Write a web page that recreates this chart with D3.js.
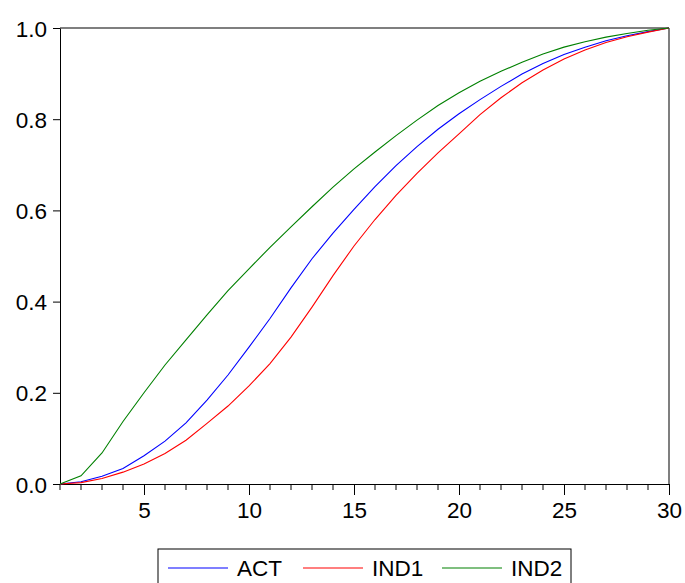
<!DOCTYPE html>
<html>
<head>
<meta charset="utf-8">
<script src="https://cdn.jsdelivr.net/npm/d3@7"></script>
<style>
  body { margin: 0; background: #fff; }
  svg { font-family: "Liberation Sans", Arial, sans-serif; }
</style>
</head>
<body>
<div id="chart"></div>
<script>
// periods 1..30
let periods = d3.range(1, 31);

let act = [0, 0.005, 0.017, 0.034, 0.062, 0.094, 0.134, 0.184, 0.239, 0.300,
  0.363, 0.430, 0.494, 0.550, 0.602, 0.652, 0.698, 0.740, 0.778, 0.812,
  0.843, 0.872, 0.899, 0.922, 0.942, 0.958, 0.972, 0.983, 0.992, 1.0];

let ind1 = [0, 0.003, 0.012, 0.026, 0.044, 0.067, 0.096, 0.133, 0.171, 0.215,
  0.264, 0.322, 0.388, 0.457, 0.522, 0.580, 0.633, 0.681, 0.726, 0.768,
  0.810, 0.847, 0.880, 0.908, 0.932, 0.952, 0.968, 0.981, 0.991, 1.0];

let ind2 = [0, 0.018, 0.068, 0.137, 0.200, 0.261, 0.316, 0.371, 0.424, 0.472,
  0.519, 0.564, 0.608, 0.651, 0.691, 0.728, 0.764, 0.798, 0.830, 0.858,
  0.883, 0.905, 0.925, 0.943, 0.958, 0.970, 0.980, 0.988, 0.995, 1.0];

let seriesNames = ["ACT", "IND1", "IND2"];
let seriesColors = ["#0000ff", "#ff0000", "#008000"];
let xTicks = [5, 10, 15, 20, 25, 30];
let yTicks = [0, 0.2, 0.4, 0.6, 0.8, 1.0];

function init(){
  let margin = {top: 28, right: 16, bottom: 99, left: 60},
      width = 685 - margin.left - margin.right,
      height = 583 - margin.top - margin.bottom;

  let svg = d3.select("#chart")
    .append("svg")
      .attr("width", 685)
      .attr("height", 583)
    .append("g")
      .attr("transform", "translate(" + margin.left + "," + margin.top + ")");

  let x = d3.scaleLinear().domain([1, 30]).range([0, width]);
  let y = d3.scaleLinear().domain([0, 1]).range([height, 0]);

  // frame top/right
  svg.append("line")
    .attr("x1", 0).attr("x2", width).attr("y1", 0).attr("y2", 0)
    .attr("stroke", "#555").attr("stroke-width", 1.5);
  svg.append("line")
    .attr("x1", width).attr("x2", width).attr("y1", 0).attr("y2", height)
    .attr("stroke", "#555").attr("stroke-width", 1.5);

  // minor x ticks at each period
  svg.append("g")
    .selectAll("line")
    .data(periods.filter(d => xTicks.indexOf(d) < 0))
    .enter()
    .append("line")
      .attr("x1", d => x(d)).attr("x2", d => x(d))
      .attr("y1", height).attr("y2", height + 6)
      .attr("stroke", "#000");

  // X axis
  let xAxis = svg.append("g")
    .attr("transform", "translate(0," + height + ")")
    .call(d3.axisBottom(x).tickValues(xTicks).tickSize(11).tickSizeOuter(0));
  xAxis.select(".domain").attr("stroke", "#000");
  xAxis.selectAll("text")
    .attr("font-size", 22.5).attr("fill", "#000").attr("dy", "0.9em")
    .attr("font-family", "Liberation Sans, Arial, sans-serif");

  // Y axis
  let yAxis = svg.append("g")
    .call(d3.axisLeft(y).tickValues(yTicks).tickFormat(d3.format(".1f")).tickSize(7).tickSizeOuter(0));
  yAxis.selectAll("text")
    .attr("font-size", 22.5).attr("fill", "#000").attr("x", -13).attr("dy", "0.36em")
    .attr("font-family", "Liberation Sans, Arial, sans-serif");

  let line = d3.line()
    .x((d, i) => x(periods[i]))
    .y(d => y(d));

  let allSeries = [act, ind1, ind2];
  svg.append("g")
    .selectAll("path")
    .data(allSeries)
    .enter()
    .append("path")
      .attr("d", d => line(d))
      .attr("fill", "none")
      .attr("stroke", (d, i) => seriesColors[i])
      .attr("stroke-width", 1.1);

  // legend
  let legend = d3.select("svg").append("g").attr("transform", "translate(158,549)");
  legend.append("rect")
    .attr("x", 0).attr("y", 0).attr("width", 413).attr("height", 40)
    .attr("fill", "none").attr("stroke", "#000");
  let items = [0, 135, 274];
  seriesNames.forEach(function(name, i){
    let g = legend.append("g").attr("transform", "translate(" + items[i] + ",0)");
    g.append("line")
      .attr("x1", 10).attr("x2", 70).attr("y1", 19).attr("y2", 19)
      .attr("stroke", seriesColors[i]).attr("stroke-width", 1.1);
    g.append("text")
      .attr("x", 79).attr("y", 27)
      .attr("font-size", 22.5).attr("fill", "#000")
      .text(name);
  });
}
init();
</script>
</body>
</html>
